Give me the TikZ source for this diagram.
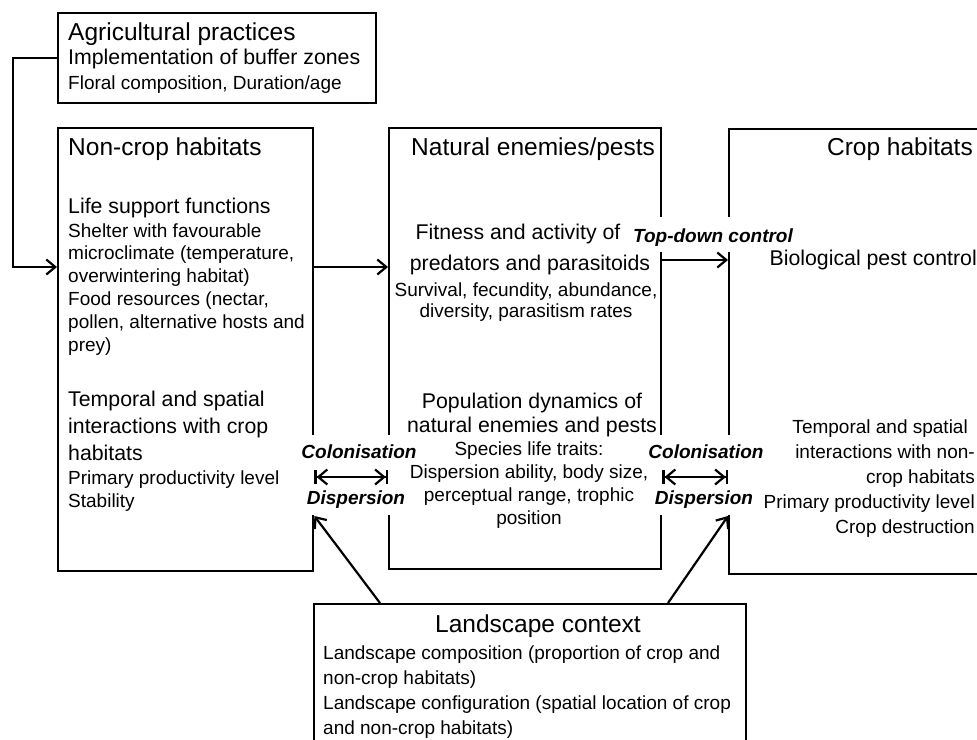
\documentclass[tikz,border=0pt]{standalone}
\usepackage{fontspec}
\setmainfont{Liberation Sans}
\usetikzlibrary{arrows.meta}
\begin{document}
\begin{tikzpicture}[x=1pt,y=-1pt,
  box/.style={draw,line width=2.4pt,anchor=north west,inner sep=0},
  gapbox/.style={fill=white,inner sep=0},
  ttl/.style={font=\fontsize{24.5}{27}\selectfont,inner sep=0},
  sub/.style={font=\fontsize{21.3}{27}\selectfont,inner sep=0},
  det/.style={font=\fontsize{19}{22.8}\selectfont,inner sep=0},
  lab/.style={font=\fontsize{19}{22}\selectfont\bfseries\itshape,inner sep=0},
  arr/.style={line width=2.2pt,-{Straight Barb[length=9pt,width=15pt]}},
  barr/.style={line width=2.2pt,{Bar[width=14pt]Straight Barb[length=9pt,width=15pt]}-{Straight Barb[length=9pt,width=15pt]Bar[width=14pt]}}
]
\useasboundingbox (0,0) rectangle (977,739);
\clip (0,0) rectangle (977,739);
% boxes
\node[box,minimum width=318,minimum height=90] (agri) at (57,12) {};
\node[box,minimum width=255,minimum height=443] (noncrop) at (57,127) {};
\node[box,minimum width=272,minimum height=441] (enemies) at (388,127) {};
\node[box,minimum width=300,minimum height=445] (crop) at (728,128) {};
\node[box,minimum width=432,minimum height=200] (land) at (313,603) {};
% openings in the box edges
\node[gapbox,minimum width=100,minimum height=35] (gapT) at (694,234.5) {};
\node[gapbox,minimum width=100,minimum height=80] (gapL) at (350,475) {};
\node[gapbox,minimum width=100,minimum height=80] (gapR) at (694,475) {};
% agricultural practices
\node[ttl,anchor=base west] (aT) at (68,40) {Agricultural practices};
\node[sub,anchor=base west] (a1) at (68,64) {Implementation of buffer zones};
\node[det,anchor=base west] (a2) at (68,89) {Floral composition, Duration/age};
% non-crop habitats (multi-line nodes sit on their last line)
\node[ttl,anchor=base west] (nT) at (68,155) {Non-crop habitats};
\node[sub,anchor=base west] (n1) at (68,213) {Life support functions};
\node[det,anchor=base west,align=left] (n2) at (68,351) {Shelter with favourable\\microclimate (temperature,\\overwintering habitat)\\Food resources (nectar,\\pollen, alternative hosts and\\prey)};
\node[sub,anchor=base west,align=left] (n3) at (68,460) {Temporal and spatial\\interactions with crop\\habitats};
\node[det,anchor=base west,align=left] (n4) at (68,507) {Primary productivity level\\Stability};
% natural enemies
\node[ttl,anchor=base west] (eT) at (411,155) {Natural enemies/pests};
\node[sub,anchor=base] (e1) at (518,239) {Fitness and activity of};
\node[sub,anchor=base] (e2) at (530,270) {predators and parasitoids};
\node[det,anchor=base,align=center] (e3) at (526,317) {Survival, fecundity, abundance,\\[-2pt]diversity, parasitism rates};
\node[sub,anchor=base,align=center] (e4) at (532,432) {Population dynamics of\\[-3pt]natural enemies and pests};
\node[det,anchor=base,align=center] (e5) at (529,524) {Species life traits:\\Dispersion ability, body size,\\perceptual range, trophic\\position};
% crop habitats
\node[ttl,anchor=base east] (cT) at (973,155) {Crop habitats};
\node[sub,anchor=base east] (c1) at (977,265) {Biological pest control};
\node[det,anchor=base east,align=right,font=\fontsize{19}{25}\selectfont] (c2) at (975,533) {Temporal and spatial\hspace*{7pt}\\interactions with non-\\crop habitats\\Primary productivity level\\Crop destruction};
% landscape
\node[ttl,anchor=base] (lT) at (538,632) {Landscape context};
\node[det,anchor=base west,align=left,font=\fontsize{19}{25}\selectfont] (l1) at (323,734) {Landscape composition (proportion of crop and\\non-crop habitats)\\Landscape configuration (spatial location of crop\\and non-crop habitats)};
% arrow labels
\node[lab,anchor=base] (td) at (713,242) {Top-down control};
\node[lab,anchor=base] (colL) at (359,458) {Colonisation};
\node[lab,anchor=base] (disL) at (356,504) {Dispersion};
\node[lab,anchor=base] (colR) at (706,458) {Colonisation};
\node[lab,anchor=base] (disR) at (704,504) {Dispersion};
% levels
\coordinate (lvlA) at (0,267);
\coordinate (lvlB) at (0,260);
\coordinate (lvlC) at (0,477);
\coordinate (lvlD) at (0,516);
% arrows
\draw[arr] (agri.west) -- ++(-44,0) |- (lvlA -| noncrop.west);
\draw[arr] (lvlA -| noncrop.east) -- (lvlA -| enemies.west);
\draw[arr] (lvlB -| enemies.east) -- (lvlB -| crop.west);
\draw[barr] (lvlC -| noncrop.east) -- (lvlC -| enemies.west);
\draw[barr] (lvlC -| enemies.east) -- (lvlC -| crop.west);
\draw[arr] ([xshift=67pt]land.north west) -- (lvlD -| noncrop.east);
\draw[arr] ([xshift=355pt]land.north west) -- (lvlD -| crop.west);
\end{tikzpicture}
\end{document}
